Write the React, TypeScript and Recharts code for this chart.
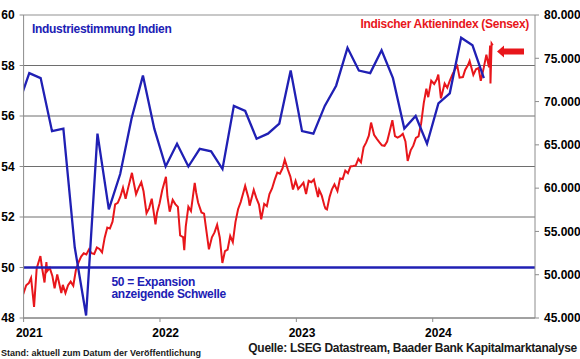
import {
  ComposedChart,
  Line,
  XAxis,
  YAxis,
  CartesianGrid,
  ReferenceLine,
} from 'recharts'

// Einkaufsmanagerindex Industrie Indien (monatlich), Dez 2020 bis Mai 2024
const pmiDec2020 = 56.4
const pmi2021 = [57.7, 57.5, 55.4, 55.5, 50.8, 48.1, 55.3, 52.3, 53.7, 55.9, 57.6, 55.5]
const pmi2022 = [54.0, 54.9, 54.0, 54.7, 54.6, 53.9, 56.4, 56.2, 55.1, 55.3, 55.7, 57.8]
const pmi2023 = [55.4, 55.3, 56.4, 57.2, 58.7, 57.8, 57.7, 58.6, 57.5, 55.5, 56.0, 54.9]
const pmi2024 = [56.5, 56.9, 59.1, 58.8, 57.5]

const sensex2021: [string, number][] = [
  ['2020-12-31', 47751], ['2021-01-08', 48782], ['2021-01-15', 49034], ['2021-01-21', 49625],
  ['2021-01-29', 46286], ['2021-02-05', 50732], ['2021-02-15', 52154], ['2021-02-19', 50890],
  ['2021-02-26', 49100], ['2021-03-03', 51445], ['2021-03-05', 50405], ['2021-03-12', 50792],
  ['2021-03-19', 49858], ['2021-03-25', 48440], ['2021-04-01', 50030], ['2021-04-12', 47883],
  ['2021-04-16', 48832], ['2021-04-23', 47878], ['2021-04-30', 48782], ['2021-05-07', 49206],
  ['2021-05-14', 48732], ['2021-05-21', 50540], ['2021-05-28', 51423], ['2021-06-04', 52100],
  ['2021-06-11', 52474], ['2021-06-18', 52344], ['2021-06-25', 52925], ['2021-07-02', 52485],
  ['2021-07-09', 52386], ['2021-07-16', 53140], ['2021-07-23', 52976], ['2021-07-30', 52587],
  ['2021-08-06', 54278], ['2021-08-13', 55437], ['2021-08-20', 55329], ['2021-08-27', 56124],
  ['2021-09-03', 58130], ['2021-09-10', 58305], ['2021-09-17', 59015], ['2021-09-24', 60048],
  ['2021-10-01', 58765], ['2021-10-08', 60059], ['2021-10-18', 61766], ['2021-10-22', 60821],
  ['2021-10-29', 59307], ['2021-11-05', 60067], ['2021-11-12', 60687], ['2021-11-18', 59636],
  ['2021-11-26', 57107], ['2021-12-03', 57696], ['2021-12-10', 58787], ['2021-12-20', 55822],
  ['2021-12-24', 57124], ['2021-12-31', 58254],
]
const sensex2022: [string, number][] = [
  ['2022-01-07', 59745], ['2022-01-17', 61309], ['2022-01-21', 59037], ['2022-01-27', 57276],
  ['2022-02-04', 58645], ['2022-02-11', 58153], ['2022-02-18', 57833], ['2022-02-24', 54530],
  ['2022-03-04', 54334], ['2022-03-07', 52843], ['2022-03-11', 55550], ['2022-03-18', 57864],
  ['2022-03-25', 57362], ['2022-04-04', 60612], ['2022-04-08', 59447], ['2022-04-13', 58339],
  ['2022-04-22', 57197], ['2022-04-29', 57061], ['2022-05-06', 54836], ['2022-05-12', 52930],
  ['2022-05-20', 54326], ['2022-05-27', 54885], ['2022-06-03', 55769], ['2022-06-10', 54303],
  ['2022-06-17', 51360], ['2022-06-24', 52728], ['2022-07-01', 52908], ['2022-07-08', 54482],
  ['2022-07-15', 53760], ['2022-07-22', 56072], ['2022-07-29', 57570], ['2022-08-05', 58388],
  ['2022-08-12', 59463], ['2022-08-17', 60260], ['2022-08-26', 58834], ['2022-08-29', 57973],
  ['2022-09-09', 59793], ['2022-09-16', 58841], ['2022-09-23', 58099], ['2022-09-29', 56409],
  ['2022-10-07', 58191], ['2022-10-14', 57920], ['2022-10-21', 59307], ['2022-10-28', 59960],
  ['2022-11-04', 60950], ['2022-11-11', 61795], ['2022-11-18', 61663], ['2022-11-25', 62294],
  ['2022-12-01', 63284], ['2022-12-09', 62182], ['2022-12-16', 61338], ['2022-12-23', 59845],
  ['2022-12-30', 60841],
]
const sensex2023: [string, number][] = [
  ['2023-01-06', 59900], ['2023-01-13', 60261], ['2023-01-20', 60621], ['2023-01-27', 59331],
  ['2023-02-03', 60841], ['2023-02-10', 60682], ['2023-02-17', 61002], ['2023-02-28', 58962],
  ['2023-03-03', 59809], ['2023-03-10', 59135], ['2023-03-17', 57990], ['2023-03-20', 57629],
  ['2023-03-24', 57527], ['2023-03-31', 58992], ['2023-04-06', 59833], ['2023-04-13', 60431],
  ['2023-04-21', 59655], ['2023-04-28', 61112], ['2023-05-05', 61054], ['2023-05-12', 62028],
  ['2023-05-19', 61729], ['2023-05-26', 62502], ['2023-06-02', 62547], ['2023-06-09', 62625],
  ['2023-06-16', 63385], ['2023-06-23', 62979], ['2023-06-30', 64719], ['2023-07-07', 65280],
  ['2023-07-14', 66060], ['2023-07-20', 67572], ['2023-07-28', 66160], ['2023-08-04', 65721],
  ['2023-08-11', 65323], ['2023-08-18', 64949], ['2023-08-25', 64886], ['2023-09-01', 65387],
  ['2023-09-08', 66598], ['2023-09-15', 67839], ['2023-09-22', 66009], ['2023-09-29', 65828],
  ['2023-10-06', 65995], ['2023-10-13', 66283], ['2023-10-20', 65397], ['2023-10-26', 63148],
  ['2023-11-03', 64364], ['2023-11-10', 64904], ['2023-11-17', 65795], ['2023-11-24', 65970],
  ['2023-12-01', 67481], ['2023-12-08', 69826], ['2023-12-15', 71484], ['2023-12-20', 70506],
  ['2023-12-28', 72410],
]
const sensex2024: [string, number][] = [
  ['2024-01-05', 72026], ['2024-01-12', 72568], ['2024-01-16', 73128], ['2024-01-23', 70370],
  ['2024-01-25', 70700], ['2024-02-02', 72085], ['2024-02-09', 71595], ['2024-02-16', 72426],
  ['2024-02-23', 73142], ['2024-03-01', 73745], ['2024-03-07', 74119], ['2024-03-13', 72762],
  ['2024-03-22', 72832], ['2024-03-28', 73651], ['2024-04-05', 74248], ['2024-04-09', 74684],
  ['2024-04-19', 73088], ['2024-04-26', 73730], ['2024-05-03', 73878], ['2024-05-09', 72404],
  ['2024-05-17', 73917], ['2024-05-24', 75410], ['2024-05-31', 73961], ['2024-06-03', 76469],
  ['2024-06-04', 72079], ['2024-06-07', 76693], ['2024-06-10', 76490],
]

const yearTicks = [2021, 2022, 2023, 2024]
const leftTicks = [48, 50, 52, 54, 56, 58, 60]
const rightTicks = [45000, 50000, 55000, 60000, 65000, 70000, 75000, 80000]

const BLUE = '#2020b4'
const RED = '#e8161b'
const FONT = '"Liberation Sans", Arial, sans-serif'

function toYear(iso: string) {
  const [y, m, d] = iso.split('-').map(Number)
  const start = Date.UTC(y, 0, 1)
  const end = Date.UTC(y + 1, 0, 1)
  return y + (Date.UTC(y, m - 1, d) - start) / (end - start)
}

const pmiData = [
  { t: 2020 + 11.5 / 12, pmi: pmiDec2020 },
  ...[pmi2021, pmi2022, pmi2023, pmi2024].flatMap((vals, yi) =>
    vals.map((pmi, m) => ({ t: 2021 + yi + (m + 0.5) / 12, pmi })),
  ),
]

const sensexData = [...sensex2021, ...sensex2022, ...sensex2023, ...sensex2024].map(
  ([date, sensex]) => ({ t: toYear(date), sensex }),
)

const tickStyle = { fontSize: 12, fontWeight: 700, fill: '#000', fontFamily: FONT }

function YearTick(props: any) {
  const { x, y, payload } = props
  return (
    <text x={x + 5.7} y={y} dy="0.71em" textAnchor="middle" style={tickStyle}>
      {payload.value}
    </text>
  )
}

export default function App() {
  return (
    <div style={{ position: 'absolute', left: 0, top: 0, width: 580, height: 359, background: '#fff', fontFamily: FONT }}>
      <ComposedChart
        width={580}
        height={359}
        margin={{ top: 15, right: 0, bottom: 21, left: 0 }}
        style={{ fontFamily: FONT }}
      >
        <CartesianGrid vertical={false} stroke="#6e6e6e" />
        <XAxis
          type="number"
          dataKey="t"
          domain={[2021, 2024.75]}
          allowDataOverflow
          ticks={yearTicks}
          tick={<YearTick />}
          tickSize={4}
          tickMargin={6}
          height={20}
          stroke="#8c8c8c"
        />
        <YAxis
          domain={[48, 60]}
          ticks={leftTicks}
          width={23.6}
          tickSize={4}
          tickMargin={5}
          tick={tickStyle}
          stroke="#8c8c8c"
          allowDataOverflow
        />
        <YAxis
          yAxisId="right"
          orientation="right"
          domain={[45000, 80000]}
          ticks={rightTicks}
          width={45}
          tickSize={4}
          tickMargin={5}
          tick={{ ...tickStyle, textAnchor: 'start' }}
          tickFormatter={(v: number) => `${v / 1000}.000`}
          stroke="#8c8c8c"
          allowDataOverflow
        />
        <ReferenceLine y={60} stroke="#d9d9d9" strokeWidth={1} />
        <Line
          yAxisId="right"
          data={sensexData}
          dataKey="sensex"
          stroke={RED}
          strokeWidth={2}
          dot={false}
          isAnimationActive={false}
        />
        <ReferenceLine y={50} stroke={BLUE} strokeWidth={2.5} />
        <Line
          data={pmiData}
          dataKey="pmi"
          stroke={BLUE}
          strokeWidth={2.3}
          dot={false}
          isAnimationActive={false}
        />
      </ComposedChart>
      <svg
        width={580}
        height={359}
        style={{ position: 'absolute', left: 0, top: 0, pointerEvents: 'none' }}
      >
        <g style={{ fontFamily: FONT, fontWeight: 700 }}>
          <text x={32} y={32.5} fontSize={12} letterSpacing={-0.3} fill={BLUE}>
            Industriestimmung Indien
          </text>
          <text x={529} y={28} fontSize={12} letterSpacing={-0.3} fill={RED} textAnchor="end">
            Indischer Aktienindex (Sensex)
          </text>
          <text x={111.5} y={285.5} fontSize={12} letterSpacing={-0.3} fill={BLUE}>
            50 = Expansion
          </text>
          <text x={111.5} y={298} fontSize={12} letterSpacing={-0.3} fill={BLUE}>
            anzeigende Schwelle
          </text>
          <text x={1} y={355.5} fontSize={9} fill="#1a1a1a">
            Stand: aktuell zum Datum der Veröffentlichung
          </text>
          <text x={577} y={352} fontSize={12} letterSpacing={-0.3} fill="#1a1a1a" textAnchor="end">
            Quelle: LSEG Datastream, Baader Bank Kapitalmarktanalyse
          </text>
        </g>
        <polygon
          points="497,51.5 504,45.5 504,48.5 524,48.5 524,54.5 504,54.5 504,57.5"
          fill={RED}
        />
      </svg>
    </div>
  )
}
